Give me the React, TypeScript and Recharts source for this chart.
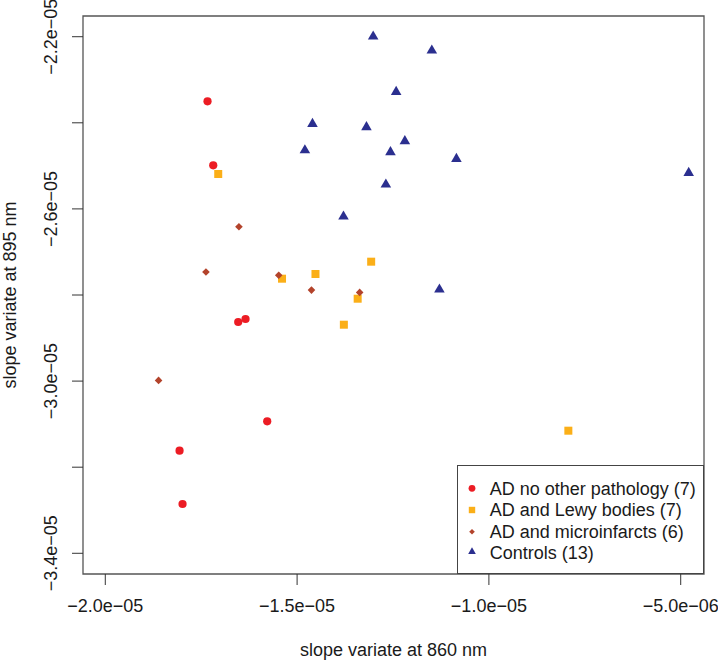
import React from "react";
import {
    ScatterChart,
    Scatter,
    XAxis,
    YAxis,
    Legend,
    ReferenceArea,
} from "recharts";

// group: AD no other pathology
const AD_ONLY_X = [-1.7335e-5, -1.7186e-5, -1.6535e-5, -1.6344e-5, -1.5779e-5, -1.8064e-5, -1.7986e-5];
const AD_ONLY_Y = [-2.35e-5, -2.4987e-5, -2.8627e-5, -2.8558e-5, -3.0934e-5, -3.1617e-5, -3.2855e-5];

// group: AD and Lewy bodies
const LEWY_X = [-1.7056e-5, -1.3069e-5, -1.4521e-5, -1.5393e-5, -1.3421e-5, -1.3781e-5, -7.929e-6];
const LEWY_Y = [-2.5189e-5, -2.7226e-5, -2.7512e-5, -2.7621e-5, -2.8086e-5, -2.869e-5, -3.1152e-5];

// group: AD and microinfarcts
const MICRO_X = [-1.6516e-5, -1.7376e-5, -1.5479e-5, -1.4625e-5, -1.3369e-5, -1.8611e-5];
const MICRO_Y = [-2.6413e-5, -2.7466e-5, -2.754e-5, -2.7886e-5, -2.794e-5, -2.9984e-5];

// group: controls
const CTRL_X = [-1.3017e-5, -1.1488e-5, -1.2418e-5, -1.4599e-5, -1.3192e-5, -1.2191e-5, -1.4797e-5, -1.2566e-5, -1.0847e-5, -4.792e-6, -1.2686e-5, -1.3791e-5, -1.129e-5];
const CTRL_Y = [-2.1995e-5, -2.2321e-5, -2.3282e-5, -2.4026e-5, -2.4102e-5, -2.4427e-5, -2.4637e-5, -2.4683e-5, -2.4839e-5, -2.5164e-5, -2.5433e-5, -2.6177e-5, -2.7872e-5];

const GROUP_NAMES = [
    "AD no other pathology (7)",
    "AD and Lewy bodies (7)",
    "AD and microinfarcts (6)",
    "Controls (13)",
];

const X_TICKS = [-2e-5, -1.5e-5, -1e-5, -5e-6];
const X_TICK_LABELS = ["\u22122.0e\u221205", "\u22121.5e\u221205", "\u22121.0e\u221205", "\u22125.0e\u221206"];
const Y_TICKS = [-2.2e-5, -2.4e-5, -2.6e-5, -2.8e-5, -3.0e-5, -3.2e-5, -3.4e-5];
const Y_TICK_LABELS = ["\u22122.2e\u221205", "", "\u22122.6e\u221205", "", "\u22123.0e\u221205", "", "\u22123.4e\u221205"];

const X_DOMAIN = [-2.0581e-5, -4.393e-6];
const Y_DOMAIN = [-3.4481e-5, -2.1519e-5];

const X_TITLE = "slope variate at 860 nm";
const Y_TITLE = "slope variate at 895 nm";

const RED = "#EC1C24";
const ORANGE = "#FBAF18";
const BROWN = "#B3432B";
const NAVY = "#2B2F8F";
const INK = "#1a1a1a";
const FONT = 18;

const zip = (xs: number[], ys: number[]) => xs.map((x, i) => ({ x, y: ys[i] }));

// marker drawers, size in px
const drawMark = (kind: string, cx: number, cy: number, s: number, key?: string) => {
    if (kind === "circle") return <circle key={key} cx={cx} cy={cy} r={s} fill={RED} />;
    if (kind === "square")
        return <rect key={key} x={cx - s} y={cy - s} width={2 * s} height={2 * s} fill={ORANGE} />;
    if (kind === "diamond")
        return (
            <polygon
                key={key}
                points={`${cx},${cy - s} ${cx + s},${cy} ${cx},${cy + s} ${cx - s},${cy}`}
                fill={BROWN}
            />
        );
    const hw = s * 0.866;
    return (
        <polygon
            key={key}
            points={`${cx},${cy - s} ${cx + hw},${cy + s / 2} ${cx - hw},${cy + s / 2}`}
            fill={NAVY}
        />
    );
};

const KINDS = ["circle", "square", "diamond", "triangle"];
const PLOT_SIZE = [4.1, 4, 3.8, 6.1];
const KEY_SIZE = [3.4, 3.2, 2.8, 4.4];

const XTick = (p: any) => {
    const i = p.index ?? X_TICKS.findIndex((t) => Math.abs(t - p.payload.value) < 1e-9);
    return (
        <text x={p.x} y={p.y + 27} textAnchor="middle" fontSize={FONT} fill={INK}>
            {X_TICK_LABELS[i]}
        </text>
    );
};

const YTick = (p: any) => {
    const i = p.index ?? Y_TICKS.findIndex((t) => Math.abs(t - p.payload.value) < 1e-9);
    const label = Y_TICK_LABELS[i];
    if (!label) return <g />;
    const bx = p.x - 15;
    return (
        <text
            x={bx}
            y={p.y}
            transform={`rotate(-90, ${bx}, ${p.y})`}
            textAnchor="middle"
            fontSize={FONT}
            fill={INK}
        >
            {label}
        </text>
    );
};

const KeyBox = () => (
    <svg width={247} height={109} style={{ display: "block" }}>
        <rect x={0.5} y={0.5} width={246} height={108} fill="#fff" stroke="#444" strokeWidth={1} />
        {GROUP_NAMES.map((name, i) => (
            <g key={name}>
                {drawMark(KINDS[i], 15, [23.3, 45, 66.7, 86.7][i], KEY_SIZE[i])}
                <text x={32.7} y={30 + i * 21.33} fontSize={FONT} fill={INK}>
                    {name}
                </text>
            </g>
        ))}
    </svg>
);

export default function App() {
    const groups = [
        zip(AD_ONLY_X, AD_ONLY_Y),
        zip(LEWY_X, LEWY_Y),
        zip(MICRO_X, MICRO_Y),
        zip(CTRL_X, CTRL_Y),
    ];
    const colors = [RED, ORANGE, BROWN, NAVY];

    return (
        <div
            style={{
                position: "absolute",
                left: 0,
                top: 0,
                width: 718,
                height: 660,
                background: "#fff",
                fontFamily: "'Liberation Sans', Arial, sans-serif",
            }}
        >
            <ScatterChart width={718} height={660} margin={{ top: 16, right: 14, left: 0, bottom: 0 }}>
                <XAxis
                    type="number"
                    dataKey="x"
                    domain={X_DOMAIN}
                    allowDataOverflow
                    ticks={X_TICKS}
                    interval={0}
                    height={86}
                    tickSize={11}
                    tickMargin={0}
                    axisLine={false}
                    tickLine={{ stroke: "#333" }}
                    tick={<XTick />}
                    label={{ value: X_TITLE, position: "insideBottom", offset: 4, style: { fontSize: FONT, fill: INK } }}
                />
                <YAxis
                    type="number"
                    dataKey="y"
                    domain={Y_DOMAIN}
                    allowDataOverflow
                    ticks={Y_TICKS}
                    interval={0}
                    width={83}
                    tickSize={11}
                    tickMargin={0}
                    axisLine={false}
                    tickLine={{ stroke: "#333" }}
                    tick={<YTick />}
                    label={{
                        value: Y_TITLE,
                        angle: -90,
                        position: "insideLeft",
                        offset: 9.5,
                        style: { textAnchor: "middle", fontSize: FONT, fill: INK },
                    }}
                />
                <ReferenceArea
                    x1={X_DOMAIN[0]}
                    x2={X_DOMAIN[1]}
                    y1={Y_DOMAIN[0]}
                    y2={Y_DOMAIN[1]}
                    fill="none"
                    stroke="#555"
                    strokeWidth={1.3}
                    ifOverflow="visible"
                />
                {groups.map((pts, i) => (
                    <Scatter
                        key={GROUP_NAMES[i]}
                        name={GROUP_NAMES[i]}
                        data={pts}
                        fill={colors[i]}
                        isAnimationActive={false}
                        shape={(p: any) => drawMark(KINDS[i], p.cx, p.cy, PLOT_SIZE[i])}
                    />
                ))}
                <Legend
                    layout="vertical"
                    align="center"
                    verticalAlign="middle"
                    wrapperStyle={{ left: 457, top: 465, width: 247, height: 109 }}
                    content={<KeyBox />}
                />
            </ScatterChart>
        </div>
    );
}
